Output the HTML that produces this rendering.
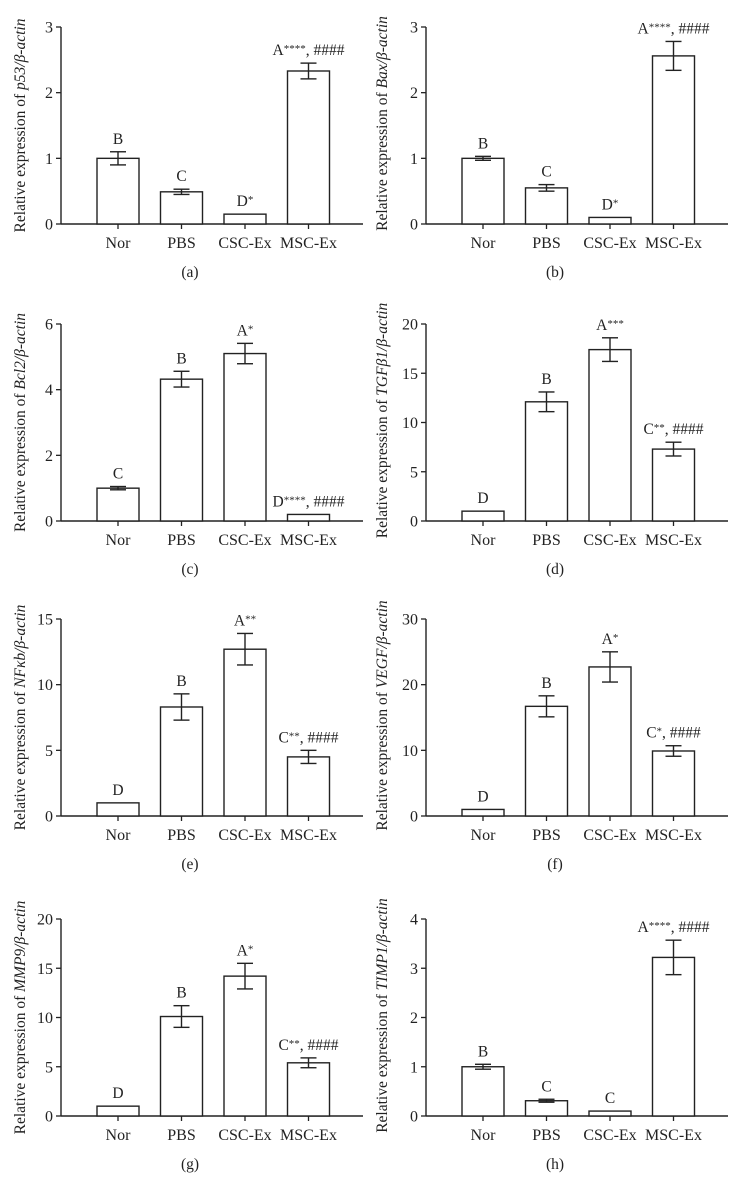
<!DOCTYPE html>
<html><head><meta charset="utf-8"><style>
html,body{margin:0;padding:0;background:#fff}
svg{display:block}
text{font-family:"Liberation Serif",serif;fill:#222}
</style></head><body>
<svg id="fig" width="742" height="1202" viewBox="0 0 742 1202" xmlns="http://www.w3.org/2000/svg"></svg>
<script>
const categories = ["Nor","PBS","CSC-Ex","MSC-Ex"];
const genes = ["p53","Bax","Bcl2","TGFβ1","NFκb","VEGF","MMP9","TIMP1"];
const captions = ["(a)","(b)","(c)","(d)","(e)","(f)","(g)","(h)"];
const yMaxes = [3,3,6,20,15,30,20,4];
const yTicks = [[0,1,2,3],[0,1,2,3],[0,2,4,6],[0,5,10,15,20],[0,5,10,15],[0,10,20,30],[0,5,10,15,20],[0,1,2,3,4]];
const valuesA = [1.0,0.49,0.15,2.33];
const valuesB = [1.0,0.55,0.10,2.56];
const valuesC = [1.0,4.32,5.10,0.20];
const valuesD = [1.0,12.1,17.4,7.3];
const valuesE = [1.0,8.3,12.7,4.5];
const valuesF = [1.0,16.7,22.7,9.9];
const valuesG = [1.0,10.1,14.2,5.4];
const valuesH = [1.0,0.31,0.10,3.22];
const errA = [0.1,0.04,0,0.12];
const errB = [0.03,0.05,0,0.22];
const errC = [0.05,0.24,0.31,0];
const errD = [0,1.0,1.2,0.7];
const errE = [0,1.0,1.2,0.5];
const errF = [0,1.6,2.3,0.8];
const errG = [0,1.1,1.3,0.5];
const errH = [0.05,0.03,0,0.35];
const letters = [["B","C","D","A"],["B","C","D","A"],["C","B","A","D"],["D","B","A","C"],["D","B","A","C"],["D","B","A","C"],["D","B","A","C"],["B","C","C","A"]];
const stars = [["","","*","****, ####"],["","","*","****, ####"],["","","*","****, ####"],["","","***","**, ####"],["","","**","**, ####"],["","","*","*, ####"],["","","*","**, ####"],["","","","****, ####"]];
const allValues=[valuesA,valuesB,valuesC,valuesD,valuesE,valuesF,valuesG,valuesH];
const allErr=[errA,errB,errC,errD,errE,errF,errG,errH];

const NS="http://www.w3.org/2000/svg";
const svg=document.getElementById('fig');
function mk(tag,attrs,parent){const e=document.createElementNS(NS,tag);for(const k in attrs)e.setAttribute(k,attrs[k]);(parent||svg).appendChild(e);return e;}
const rowZero=[224,521,816,1116];
const PH=197;
for(let p=0;p<8;p++){
  const col=p%2,row=Math.floor(p/2);
  const ox=col?365:0;
  const axX=col?426:61;
  const y0=rowZero[row];
  const g=mk('g',{});
  
  
  const ymax=yMaxes[p];
  const yS=v=>y0-v/ymax*PH;
  const xC=i=>ox+118+i*63.5;
  const ya=mk('line',{x1:axX,y1:yS(ymax),x2:axX,y2:y0,stroke:'#222','stroke-width':1.4},g);
  
  
  const xa=mk('line',{x1:axX,y1:y0,x2:ox+363,y2:y0,stroke:'#222','stroke-width':1.4},g);
  
  
  yTicks[p].forEach(t=>{
    mk('line',{x1:axX-5,y1:yS(t),x2:axX,y2:yS(t),stroke:'#222','stroke-width':1.3},g);
    const tl=mk('text',{x:axX-8,y:yS(t)+5.5,'text-anchor':'end','font-size':16},g);
    tl.textContent=t;
    
    
  });
  const vals=allValues[p],errs=allErr[p];
  categories.forEach((c,i)=>{
    const cx=xC(i);
    const top=yS(vals[i]);
    const b=mk('rect',{x:cx-21,y:top,width:42,height:y0-top,fill:'#fff',stroke:'#222','stroke-width':1.4},g);
    
    
    if(errs[i]>0){
      const eu=yS(vals[i]+errs[i]),ed=yS(vals[i]-errs[i]);
      mk('line',{x1:cx,y1:eu,x2:cx,y2:ed,stroke:'#222','stroke-width':1.4},g);
      mk('line',{x1:cx-8,y1:eu,x2:cx+8,y2:eu,stroke:'#222','stroke-width':1.4},g);
      mk('line',{x1:cx-8,y1:ed,x2:cx+8,y2:ed,stroke:'#222','stroke-width':1.4},g);
    }
    mk('line',{x1:cx,y1:y0,x2:cx,y2:y0+5,stroke:'#222','stroke-width':1.3},g);
    const lt=yS(vals[i]+errs[i])-8;
    const lab=mk('text',{x:cx,y:lt,'text-anchor':'middle','font-size':15.5},g);
    
    
    const s1=mk('tspan',{},lab);s1.textContent=letters[p][i];
    const st=stars[p][i];
    if(st){
      const stParts=st.split(', ');
      const s2=mk('tspan',{'font-size':11,dy:-3},lab);s2.textContent=stParts[0];
      if(stParts[1]){const s3=mk('tspan',{'font-size':15.5,dy:3},lab);s3.textContent=', '+stParts[1];}
    }
    const xl=mk('text',{x:cx,y:y0+24,'text-anchor':'middle','font-size':16},g);
    xl.textContent=c;
    
    
  });
  const ycx=ox+(col?22:25), ycy=y0-PH/2+(col?-2:0);
  const yt=mk('text',{x:ycx,y:ycy,'text-anchor':'middle','font-size':15.5,transform:`rotate(-90 ${ycx} ${ycy})`},g);
  
  
  const a=mk('tspan',{},yt);a.textContent='Relative expression of ';
  const b2=mk('tspan',{'font-style':'italic'},yt);b2.textContent=genes[p]+'/β-actin';
  const cap=mk('text',{x:ox+190,y:y0+53,'text-anchor':'middle','font-size':15.5},g);
  cap.textContent=captions[p];
  
  
}
</script>
</body></html>
